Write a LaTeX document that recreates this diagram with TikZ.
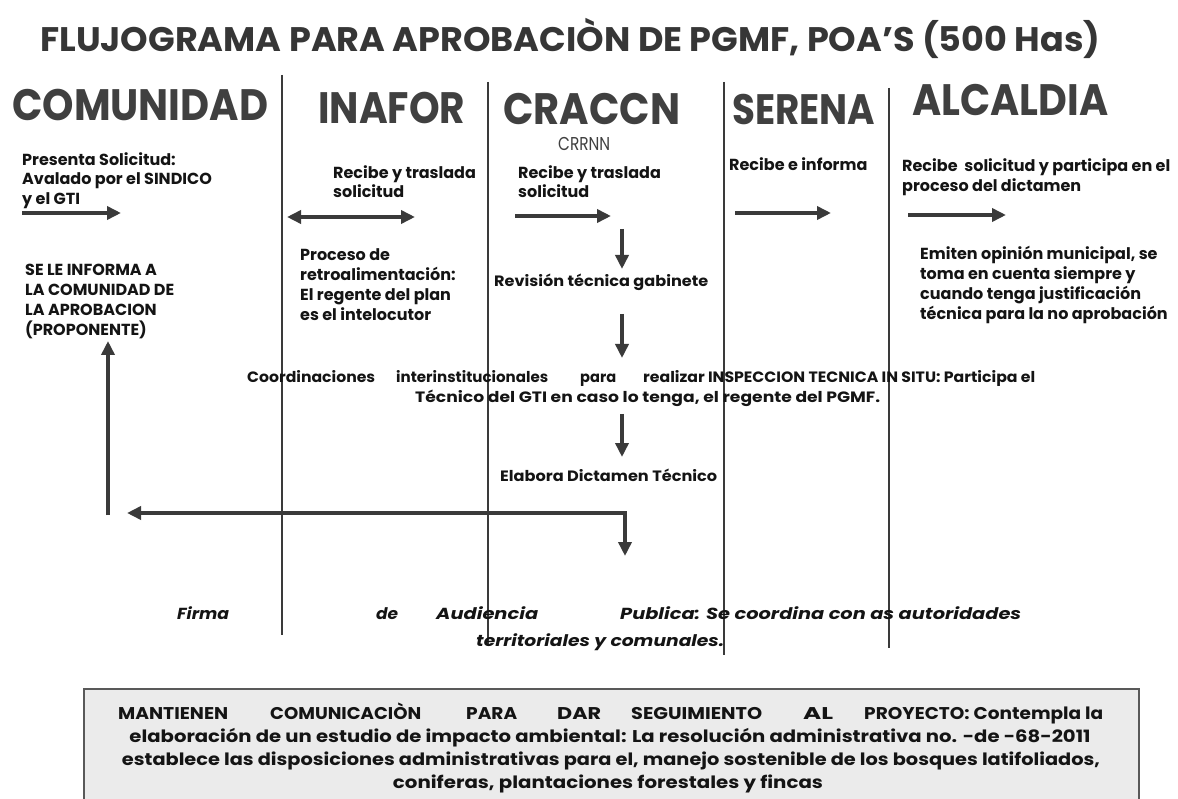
\documentclass[tikz,border=0pt]{standalone}
\usepackage{fontspec}
\setmainfont{Poppins}
\usetikzlibrary{arrows.meta}
\definecolor{ink}{HTML}{3A3A3A}
\definecolor{txt}{HTML}{141414}
\definecolor{hdr}{HTML}{404040}
\definecolor{boxfill}{HTML}{EBEBEB}
\definecolor{boxline}{HTML}{595959}
\newcommand{\capfit}[3]{\resizebox{#1}{#2}{\smash{#3}\rule{0pt}{\fontcharht\font`H}}}
\newcommand{\hfit}[2]{\resizebox{#1}{\height}{#2}}
\newcommand{\boxfont}{\fontsize{17}{23}\selectfont\bfseries}
\begin{document}
\begin{tikzpicture}[x=1pt,y=-1pt,
  lane/.style={draw=ink, line width=2.5pt},
  tip/.tip={Triangle[length=14pt,width=13pt]},
  flow/.style={draw=ink, line width=4pt, -tip},
  body/.style={anchor=north west, inner sep=0pt, align=left, text=txt,
    font=\fontsize{16}{19.5}\selectfont\bfseries},
  body4/.style={body, font=\fontsize{16}{20}\selectfont\bfseries},
  bodyc/.style={anchor=base, inner sep=0pt, text=txt,
    font=\fontsize{15}{19.5}\selectfont\bfseries},
  firmaf/.style={anchor=base west, inner sep=0pt, text=txt,
    font=\fontsize{16}{20}\selectfont\bfseries\itshape},
  notef/.style={anchor=base west, inner sep=0pt, text=txt, font=\boxfont},
  head/.style={anchor=base west, inner sep=0pt, text=hdr, font=\fontsize{30}{34}\selectfont\bfseries}]
\useasboundingbox (0,0) rectangle (1178,799);
\fill[white] (0,0) rectangle (1178,799);

% title
\node[anchor=base west, inner sep=0pt, text=hdr!85!black, font=\fontsize{24}{28}\selectfont\bfseries] (title) at (40,52)
  {\capfit{1060pt}{24pt}{FLUJOGRAMA PARA APROBACIÒN DE PGMF, POA’S (500 Has)}};

% headers
\node[head] (hcom) at (12,121) {\capfit{256pt}{31pt}{COMUNIDAD}};
\node[head] (hina) at (318,124) {\capfit{147pt}{31pt}{INAFOR}};
\node[head] (hcra) at (503,125) {\capfit{177pt}{31pt}{CRACCN}};
\node[head] (hser) at (732,125) {\capfit{143pt}{30pt}{SERENA}};
\node[head] (halc) at (912,116) {\capfit{196pt}{31pt}{ALCALDIA}};
\node[head, font=\fontsize{14}{16}\selectfont] (hcrr) at (558,151) {\capfit{52pt}{13pt}{CRRNN}};

% lanes
\coordinate (l1t) at (282,75);  \coordinate (l1b) at (282,635);
\coordinate (l2t) at (488,82);  \coordinate (l2b) at (488,645);
\coordinate (l3t) at (724,82);  \coordinate (l3b) at (724,655);
\coordinate (l4t) at (889,88);  \coordinate (l4b) at (889,648);
\draw[lane] (l1t) -- (l1b);
\draw[lane] (l2t) -- (l2b);
\draw[lane] (l3t) -- (l3b);
\draw[lane] (l4t) -- (l4b);

% comunidad
\node[body] (pres) at (22,152) {Presenta Solicitud:\\Avalado por el SINDICO\\y el GTI};
\node[body4] (inf) at (25,264) {SE LE INFORMA A\\LA COMUNIDAD DE\\LA APROBACION\\(PROPONENTE)};
\coordinate (a1s) at (22,213); \coordinate (a1e) at (121,213);
\draw[flow] (a1s) -- (a1e);
\coordinate (upS) at (108,515); \coordinate (upE) at (108,341);
\draw[flow] (upS) -- (upE);

% inafor
\node[body] (inaf) at (333,165) {Recibe y traslada\\solicitud};
\coordinate (a2s) at (287,217); \coordinate (a2e) at (415,217);
\draw[flow, tip-tip] (a2s) -- (a2e);
\node[body4] (proc) at (300,248) {Proceso de\\retroalimentación:\\El regente del plan\\es el intelocutor};

% craccn
\node[body] (crac) at (518,165) {Recibe y traslada\\solicitud};
\coordinate (a3s) at (515,216); \coordinate (a3e) at (611,216);
\draw[flow] (a3s) -- (a3e);
\coordinate (d1s) at (622,229); \coordinate (d1e) at (622,269);
\draw[flow] (d1s) -- (d1e);
\node[bodyc, anchor=base west] (rev) at (494,287) {\hfit{214pt}{Revisión técnica gabinete}};
\coordinate (d2s) at (622,314); \coordinate (d2e) at (622,358);
\draw[flow] (d2s) -- (d2e);
\node[bodyc, anchor=base west] (coord1) at (247,383) {\hfit{128pt}{Coordinaciones}\hspace{21pt}\hfit{152pt}{interinstitucionales}\hspace{32pt}\hfit{36pt}{para}\hspace{27pt}\hfit{392pt}{realizar INSPECCION TECNICA IN SITU: Participa el}};
\node[bodyc, anchor=base west] (coord2) at (415,403) {\hfit{465pt}{Técnico del GTI en caso lo tenga, el regente del PGMF.}};
\coordinate (d3s) at (622,414); \coordinate (d3e) at (622,457);
\draw[flow] (d3s) -- (d3e);
\node[bodyc, anchor=base west] (elab) at (500,482) {\hfit{217pt}{Elabora Dictamen Técnico}};
\coordinate (fbL) at (127,513); \coordinate (fbC) at (625,513); \coordinate (fbD) at (625,556);
\draw[flow, tip-tip] (fbL) -- (fbC) -- (fbD);

% firma
\node[firmaf] (firma1) at (177,619) {\hfit{52pt}{Firma}\hspace{147pt}\hfit{22pt}{de}\hspace{38pt}\hfit{102pt}{Audiencia}\hspace{82pt}\hfit{401pt}{Publica: Se coordina con as autoridades}};
\node[firmaf] (firma2) at (476,646) {\hfit{248pt}{territoriales y comunales.}};

% serena
\node[body] (ser) at (729,157) {Recibe e informa};
\coordinate (a4s) at (735,213); \coordinate (a4e) at (831,213);
\draw[flow] (a4s) -- (a4e);

% alcaldia
\node[body4] (alc) at (902,158) {Recibe\ \ solicitud y participa en el\\proceso del dictamen};
\coordinate (a5s) at (908,215); \coordinate (a5e) at (1006,215);
\draw[flow] (a5s) -- (a5e);
\node[body4] (emit) at (920,246) {Emiten opinión municipal, se\\toma en cuenta siempre y\\cuando tenga justificación\\técnica para la no aprobación};

% bottom note
\node[draw=boxline, fill=boxfill, line width=2pt, anchor=north west, inner sep=0pt,
  minimum width=1055pt, minimum height=114pt] (note) at (83,688) {};
\node[notef] (n1) at (118,719) {\hfit{110pt}{MANTIENEN}\hspace{42pt}\hfit{151pt}{COMUNICACIÒN}\hspace{45pt}\hfit{51pt}{PARA}\hspace{40pt}\hfit{44pt}{DAR}\hspace{30pt}\hfit{131pt}{SEGUIMIENTO}\hspace{41pt}\hfit{30pt}{AL}\hspace{31pt}\hfit{239pt}{PROYECTO: Contempla la}};
\node[notef, anchor=base] (n2) at (610,742) {\hfit{961pt}{elaboración de un estudio de impacto ambiental: La resolución administrativa no. -de -68-2011}};
\node[notef, anchor=base] (n3) at (611,765) {\hfit{978pt}{establece las disposiciones administrativas para el, manejo sostenible de los bosques latifoliados,}};
\node[notef, anchor=base] (n4) at (608,788) {\hfit{430pt}{coniferas, plantaciones forestales y fincas}};
\end{tikzpicture}
\end{document}
